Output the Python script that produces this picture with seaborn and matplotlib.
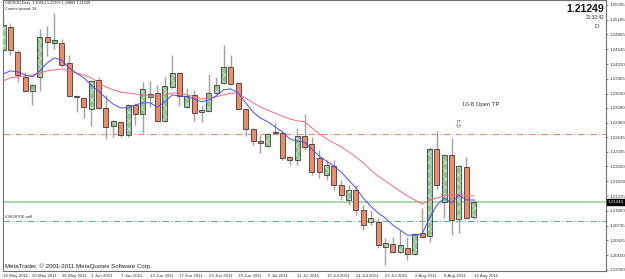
import matplotlib
matplotlib.use("Agg")
import matplotlib.pyplot as plt
import seaborn as sns
import pandas as pd
import numpy as np
import logging
logging.getLogger("matplotlib.font_manager").setLevel(logging.ERROR)

# ---------------- data ----------------
dates = pd.bdate_range("2011-05-16", "2011-08-12")
date_labels = ["16 May 2011", "20 May 2011", "26 May 2011", "1 Jun 2011", "7 Jun 2011",
               "13 Jun 2011", "17 Jun 2011", "23 Jun 2011", "29 Jun 2011", "5 Jul 2011",
               "11 Jul 2011", "15 Jul 2011", "21 Jul 2011", "27 Jul 2011", "2 Aug 2011",
               "8 Aug 2011", "12 Aug 2011"]

opens = [1.2453, 1.2503, 1.2449, 1.2395, 1.2364, 1.2395, 1.2481, 1.2468, 1.2468, 1.2425,
         1.2352, 1.2349, 1.2326, 1.2388, 1.2328, 1.2289, 1.2298, 1.2269, 1.2334, 1.2315,
         1.2352, 1.2360, 1.2300, 1.2373, 1.2403, 1.2330, 1.2356, 1.2319, 1.2321, 1.2360,
         1.2382, 1.2416, 1.2382, 1.2326, 1.2282, 1.2256, 1.2246, 1.2274, 1.2274, 1.2222,
         1.2215, 1.2267, 1.2250, 1.2220, 1.2183, 1.2202, 1.2161, 1.2129, 1.2151, 1.2107,
         1.2081, 1.2081, 1.2027, 1.2034, 1.2017, 1.2025, 1.2012, 1.2058, 1.2051, 1.2239,
         1.2125, 1.2226, 1.2088, 1.2200, 1.20914]
highs = [1.2529, 1.2511, 1.2453, 1.2406, 1.2380, 1.2498, 1.2505, 1.2533, 1.2477, 1.2442,
         1.2356, 1.2352, 1.2388, 1.2395, 1.2356, 1.2302, 1.2300, 1.2336, 1.2339, 1.2384,
         1.2386, 1.2377, 1.2395, 1.2442, 1.2406, 1.2371, 1.2367, 1.2334, 1.2401, 1.2395,
         1.2464, 1.2442, 1.2384, 1.2328, 1.2285, 1.2269, 1.2274, 1.2295, 1.2276, 1.2224,
         1.2285, 1.2315, 1.2265, 1.2237, 1.2215, 1.2215, 1.2172, 1.2161, 1.2161, 1.2118,
         1.2107, 1.2090, 1.2047, 1.2049, 1.2064, 1.2049, 1.2058, 1.2112, 1.2244, 1.2278,
         1.2228, 1.2263, 1.2205, 1.2222, 1.21303]
lows = [1.2449, 1.2442, 1.2384, 1.2362, 1.2334, 1.2364, 1.2440, 1.2455, 1.2416, 1.2352,
        1.2319, 1.2306, 1.2289, 1.2326, 1.2261, 1.2265, 1.2265, 1.2265, 1.2291, 1.2274,
        1.2330, 1.2298, 1.2298, 1.2371, 1.2332, 1.2328, 1.2300, 1.2298, 1.2319, 1.2358,
        1.2380, 1.2377, 1.2323, 1.2267, 1.2248, 1.2231, 1.2244, 1.2272, 1.2215, 1.2205,
        1.2205, 1.2237, 1.2183, 1.2177, 1.2172, 1.2151, 1.2129, 1.2118, 1.2097, 1.2064,
        1.2075, 1.2025, 1.1988, 1.2014, 1.2014, 1.1999, 1.2010, 1.2047, 1.2038, 1.2153,
        1.2090, 1.2053, 1.2058, 1.2088, 1.20884]
closes = [1.2507, 1.2453, 1.2399, 1.2364, 1.2377, 1.2481, 1.2470, 1.2475, 1.2421, 1.2354,
          1.2353, 1.2330, 1.2386, 1.2328, 1.2287, 1.2300, 1.2269, 1.2334, 1.2315, 1.2369,
          1.2358, 1.2300, 1.2375, 1.2403, 1.2354, 1.2354, 1.2317, 1.2323, 1.2360, 1.2377,
          1.2416, 1.2380, 1.2326, 1.2282, 1.2256, 1.2252, 1.2272, 1.2276, 1.2220, 1.2215,
          1.2267, 1.2244, 1.2189, 1.2189, 1.2205, 1.2161, 1.2140, 1.2151, 1.2107, 1.2075,
          1.2090, 1.2032, 1.2036, 1.2017, 1.2032, 1.2012, 1.2056, 1.2049, 1.2239, 1.2161,
          1.2226, 1.2086, 1.2202, 1.2090, 1.21249]

ma_fast = [1.2401, 1.2408, 1.2406, 1.2399, 1.2395, 1.2408, 1.2425, 1.2436, 1.2431, 1.2414,
           1.2403, 1.2393, 1.2377, 1.2364, 1.2349, 1.2336, 1.2328, 1.2328, 1.2334, 1.2339,
           1.2339, 1.2330, 1.2341, 1.2356, 1.2354, 1.2352, 1.2347, 1.2341, 1.2345, 1.2354,
           1.2367, 1.2369, 1.2360, 1.2339, 1.2319, 1.2306, 1.2298, 1.2287, 1.2276, 1.2261,
           1.2256, 1.2254, 1.2239, 1.2224, 1.2213, 1.2202, 1.2189, 1.2172, 1.2155, 1.2133,
           1.2116, 1.2101, 1.2090, 1.2075, 1.2064, 1.2053, 1.2053, 1.2056, 1.2090, 1.2118,
           1.2133, 1.2123, 1.2140, 1.2129, 1.2129]
ma_slow = [1.2386, 1.2393, 1.2395, 1.2397, 1.2399, 1.2403, 1.2408, 1.2410, 1.2412, 1.2408,
           1.2403, 1.2399, 1.2393, 1.2382, 1.2373, 1.2367, 1.2362, 1.2360, 1.2358, 1.2356,
           1.2354, 1.2354, 1.2356, 1.2360, 1.2360, 1.2356, 1.2352, 1.2347, 1.2349, 1.2352,
           1.2356, 1.2360, 1.2358, 1.2349, 1.2339, 1.2330, 1.2323, 1.2317, 1.2310, 1.2304,
           1.2300, 1.2298, 1.2285, 1.2272, 1.2261, 1.2252, 1.2244, 1.2233, 1.2222, 1.2209,
           1.2194, 1.2181, 1.2170, 1.2159, 1.2148, 1.2138, 1.2129, 1.2120, 1.2129, 1.2133,
           1.2138, 1.2140, 1.2140, 1.2138, 1.2138]

price_ticks = ["1.25505", "1.25185", "1.24865", "1.24545", "1.24220", "1.23905", "1.23590",
               "1.23280", "1.22960", "1.22645", "1.22335", "1.22020", "1.21690", "1.21375",
               "1.21060", "1.20735", "1.20425", "1.20100", "1.19780"]

bid_price = 1.21249
tp_level = 1.2272
sell_level = 1.2084
y_range = (1.19756, 1.2561)

# ---------------- figure ----------------
sns.set_style("white")
plt.rcParams["font.family"] = ["DejaVu Sans"]
plt.rcParams["hatch.linewidth"] = 0.5
NARROW = ["Liberation Sans Narrow", "Liberation Sans", "DejaVu Sans"]
ARIAL = ["Liberation Sans", "DejaVu Sans"]

fig = plt.figure(figsize=(6.25, 2.79), dpi=100)
ax = fig.add_axes([3 / 625, 8 / 279, 603 / 625, 271 / 279])

df = pd.DataFrame({"date": dates, "open": opens, "high": highs, "low": lows,
                   "close": closes, "fast": ma_fast, "slow": ma_slow})
df["idx"] = np.arange(len(df))

up_col = "#8fc48f"
dn_col = "#f08a68"
edge = "#3a3a3a"
wick = "#a0a0a0"

ax.vlines(df["idx"], df["low"], df["high"], color=wick, lw=1.0, zorder=2)
bull = df["close"] >= df["open"]
bear = ~bull
ax.bar(df["idx"][bull], (df["close"] - df["open"])[bull], bottom=df["open"][bull],
       width=0.68, color=up_col, edgecolor="#d6ecd6", linewidth=0, hatch="xxxx", zorder=3)
ax.bar(df["idx"][bull], (df["close"] - df["open"])[bull], bottom=df["open"][bull],
       width=0.68, fill=False, edgecolor=edge, linewidth=0.6, zorder=3.5)
ax.bar(df["idx"][bear], (df["open"] - df["close"])[bear], bottom=df["close"][bear],
       width=0.68, color=dn_col, edgecolor=edge, linewidth=0.6, zorder=3)

sns.lineplot(data=df, x="idx", y="slow", ax=ax, color="#f06a80", lw=0.7, zorder=4)
sns.lineplot(data=df, x="idx", y="fast", ax=ax, color="#4a4cf0", lw=0.7, zorder=5)

# horizontal levels
ax.axhline(tp_level, color="#f08a68", lw=0.8, ls=(0, (6, 2, 1, 2)), zorder=1)
ax.axhline(sell_level, color="#5fb38a", lw=0.8, ls=(0, (6, 2, 1, 2)), zorder=1)
ax.axhline(bid_price, color="#9ad49a", lw=1.2, zorder=1)

ax.set_xlim(0.2, 82.0)
ax.set_ylim(*y_range)

ax.set_xticks(np.arange(0, len(df), 4))
ax.set_xticklabels(date_labels, fontsize=3.2, ha="left", color="#333333", family=NARROW)
ax.yaxis.tick_right()
ax.set_yticks([float(t) for t in price_ticks])
ax.set_yticklabels(price_ticks, fontsize=3.2, color="#333333", family=NARROW)
ax.tick_params(axis="both", length=1.5, width=0.5, pad=0.8, colors="#555555", labelcolor="#333333")
ax.tick_params(axis="x", pad=0.5)
ax.set_xlabel("")
ax.set_ylabel("")
for s in ax.spines.values():
    s.set_color("#707070")
    s.set_linewidth(0.8)

# texts
ax.text(0.003, 0.996, "USDSGD,Daily  1.20914 1.21303 1.20884 1.21249", transform=ax.transAxes,
        fontsize=2.7, va="top", ha="left", color="#222222", family=NARROW)
ax.text(0.003, 0.975, "Current spread: 28", transform=ax.transAxes,
        fontsize=2.7, va="top", ha="left", color="#222222", family=NARROW)
ax.text(0.9975, 0.985, "1.21249", transform=ax.transAxes, fontsize=7.6, fontweight="bold",
        va="top", ha="right", color="#111111", family=ARIAL)
ax.text(0.9975, 0.945, "21:32:42", transform=ax.transAxes, fontsize=3.4,
        va="top", ha="right", color="#222222", family=NARROW)
ax.text(0.985, 0.91, "D", transform=ax.transAxes, fontsize=4.6,
        va="top", ha="center", color="#444444", family=ARIAL)
ax.text(0.003, sell_level + 0.0004, "#9628700 sell", fontsize=3.2, va="bottom", ha="left",
        color="#333333", transform=ax.get_yaxis_transform(), family=NARROW)
ax.text(64.9, 1.2336, "10-8 Open TP", fontsize=4.3, ha="center", va="center",
        color="#333333", family=ARIAL)
ax.text(61.9, 1.2291, "\u21e9", fontsize=8, ha="center", va="center", color="#3aa040",
        family=["DejaVu Sans"])
ax.text(0.003, 0.006, "MetaTrader, \u00a9 2001-2011 MetaQuotes Software Corp.",
        transform=ax.transAxes, fontsize=4.4, va="bottom", ha="left", color="#222222",
        family=NARROW)

# bid label on the price axis
ax.text(1.003, bid_price, "1.21249", transform=ax.get_yaxis_transform(), fontsize=3.2,
        va="center", ha="left", color="white", family=NARROW,
        bbox=dict(boxstyle="square,pad=0.2", fc="black", ec="black"))

fig.savefig("out.png", dpi=100)
